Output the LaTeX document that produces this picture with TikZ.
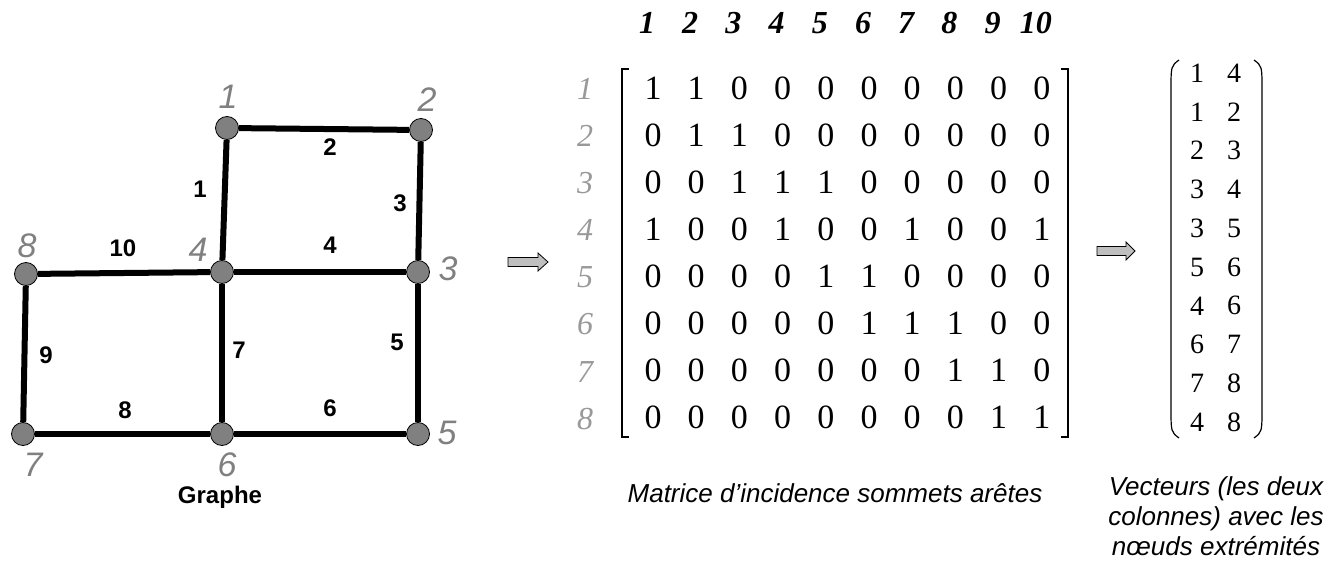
\documentclass[tikz,border=0pt]{standalone}
\usepackage{fontspec}
\setmainfont{Liberation Serif}
\newfontfamily\helv{Liberation Sans}
\usepackage{tikz}
\usetikzlibrary{calc}
\tikzstyle{sommet}=[circle, draw, thin, fill=gray, inner sep=0pt, minimum size=11.5pt]
\tikzstyle{arete}=[line width=3pt]
\tikzstyle{numsommet}=[text=gray, font=\helv\itshape\fontsize{17}{17}\selectfont]
\tikzstyle{numarete}=[font=\helv\bfseries\fontsize{12}{12}\selectfont]
\tikzstyle{fleche}=[draw, thin, fill=black!25, line join=miter]

\begin{document}
\begin{tikzpicture}[x=0.5pt, y=-0.5pt]

                \useasboundingbox (0,0) rectangle (1338,561);

                % graphe
                \node [sommet] (s1) at (227, 128) {};
                \node [sommet] (s2) at (421, 130) {};
                \node [sommet] (s3) at (418, 272) {};
                \node [sommet] (s4) at (222, 272) {};
                \node [sommet] (s5) at (418, 434) {};
                \node [sommet] (s6) at (222, 434) {};
                \node [sommet] (s7) at (23, 434) {};
                \node [sommet] (s8) at (26, 274) {};

                \draw [arete] (s1) -- (s4);
                \draw [arete] (s1) -- (s2);
                \draw [arete] (s2) -- (s3);
                \draw [arete] (s3) -- (s4);
                \draw [arete] (s3) -- (s5);
                \draw [arete] (s5) -- (s6);
                \draw [arete] (s4) -- (s6);
                \draw [arete] (s6) -- (s7);
                \draw [arete] (s7) -- (s8);
                \draw [arete] (s4) -- (s8);

                \node [numsommet] (n1) at (228, 97) {1};
                \node [numsommet] (n2) at (427, 100) {2};
                \node [numsommet] (n3) at (448, 269) {3};
                \node [numsommet] (n4) at (198, 250) {4};
                \node [numsommet] (n5) at (447, 433) {5};
                \node [numsommet] (n6) at (227, 465) {6};
                \node [numsommet] (n7) at (33, 465) {7};
                \node [numsommet] (n8) at (27, 246) {8};

                \node [numarete] (a1) at (200, 189) {1};
                \node [numarete] (a2) at (330, 147) {2};
                \node [numarete] (a3) at (400, 203) {3};
                \node [numarete] (a4) at (330, 245) {4};
                \node [numarete] (a5) at (397, 342) {5};
                \node [numarete] (a6) at (330, 408) {6};
                \node [numarete] (a7) at (239, 350) {7};
                \node [numarete] (a8) at (125, 410) {8};
                \node [numarete] (a9) at (46, 355) {9};
                \node [numarete] (a10) at (123, 248) {10};

                \node [font=\helv\bfseries\fontsize{12}{12}\selectfont] (graphe) at (220, 497) {Graphe};

                % fleches
                \draw [fleche] (508, 257.5) -- ++(30, 0) -- ++(0, -4.5) -- ++(10, 9) -- ++(-10, 9) -- ++(0, -4.5) -- ++(-30, 0) -- cycle;
                \draw [fleche] (1097, 246.5) -- ++(29, 0) -- ++(0, -4.5) -- ++(9, 9) -- ++(-9, 9) -- ++(0, -4.5) -- ++(-29, 0) -- cycle;

                % matrice d'incidence
                \foreach \c in {1,...,10}
                    \node [font=\bfseries\itshape\fontsize{16}{16}\selectfont] (h\c) at ({647+43.2*(\c-1)}, 23) {\c};
                \foreach \r in {1,...,8}
                    \node [text=black!40, font=\itshape\fontsize{16}{16}\selectfont] (l\r) at (585, {89+47.1*(\r-1)}) {\r};

                \foreach \ligne [count=\r] in {{1,1,0,0,0,0,0,0,0,0},{0,1,1,0,0,0,0,0,0,0},{0,0,1,1,1,0,0,0,0,0},{1,0,0,1,0,0,1,0,0,1},
                        {0,0,0,0,1,1,0,0,0,0},{0,0,0,0,0,1,1,1,0,0},{0,0,0,0,0,0,0,1,1,0},{0,0,0,0,0,0,0,0,1,1}}
                    \foreach \v [count=\c] in \ligne
                        \node [font=\fontsize{17}{17}\selectfont] (m\r-\c) at ({653+43.2*(\c-1)}, {88+47.1*(\r-1)}) {\v};

                \draw [line width=0.8pt] (629, 69) -- (622, 69) -- (622, 437) -- (629, 437);
                \draw [line width=0.8pt] (1061, 69) -- (1068, 69) -- (1068, 437) -- (1061, 437);

                \node [font=\helv\itshape\fontsize{13}{13}\selectfont] (titremat) at (835, 493) {Matrice d’incidence sommets arêtes};

                % vecteurs
                \foreach \a/\b [count=\r] in {1/4,1/2,2/3,3/4,3/5,5/6,4/6,6/7,7/8,4/8} {
                    \node [font=\fontsize{14}{14}\selectfont] (v\r-1) at (1197, {73+38.8*(\r-1)}) {\a};
                    \node [font=\fontsize{14}{14}\selectfont] (v\r-2) at (1234, {73+38.8*(\r-1)}) {\b};
                }

                \draw [line width=0.6pt] (1179, 60) .. controls (1171, 66) .. (1171, 90) -- (1171, 408) .. controls (1171, 432) .. (1179, 438);
                \draw [line width=0.6pt] (1254, 60) .. controls (1262, 66) .. (1262, 90) -- (1262, 408) .. controls (1262, 432) .. (1254, 438);

                \node [align=center, inner sep=0pt, font=\helv\itshape\fontsize{13}{15}\selectfont] (titrevec) at (1216, 516) {Vecteurs (les deux\\colonnes) avec les\\nœuds extrémités};

            \end{tikzpicture}
\end{document}
